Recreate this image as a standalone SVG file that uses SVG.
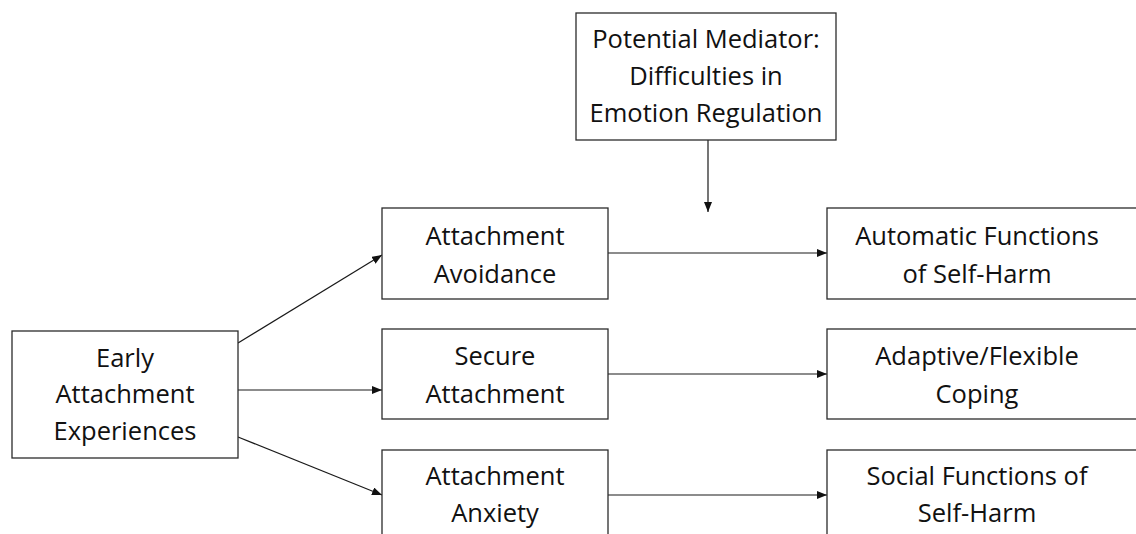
<svg xmlns="http://www.w3.org/2000/svg" width="1136" height="534" viewBox="0 0 1136 534">
<style>
.box{fill:#fff;stroke:#2b2b2b;stroke-width:1.3}
.t{font-family:"Open Sans","Liberation Sans",sans-serif;font-size:25.5px;fill:#111;text-anchor:middle}
.c{stroke:#1a1a1a;stroke-width:1.2;fill:none;marker-end:url(#ah)}
</style>
<defs>
<marker id="ah" viewBox="0 0 10 8" refX="10" refY="4" markerWidth="10" markerHeight="8" markerUnits="userSpaceOnUse" orient="auto">
<path d="M0,0 L10,4 L0,8 Z" fill="#111"/>
</marker>
</defs>
<rect width="1136" height="534" fill="#fff"/>
<g id="connectors">
<line class="c" x1="708" y1="140" x2="708" y2="212"/>
<line class="c" x1="238" y1="343" x2="382" y2="255"/>
<line class="c" x1="238" y1="390" x2="382" y2="390"/>
<line class="c" x1="238" y1="437" x2="382" y2="495"/>
<line class="c" x1="608" y1="253" x2="827" y2="253"/>
<line class="c" x1="608" y1="374" x2="827" y2="374"/>
<line class="c" x1="608" y1="495" x2="827" y2="495"/>
</g>
<g id="mediator">
<rect class="box" x="576" y="13" width="260" height="127"/>
<text class="t" x="706" y="48">Potential Mediator:</text>
<text class="t" x="706" y="85">Difficulties in</text>
<text class="t" x="706" y="122">Emotion Regulation</text>
</g>
<g id="early">
<rect class="box" x="12" y="331" width="226" height="127"/>
<text class="t" x="125" y="367">Early</text>
<text class="t" x="125" y="403">Attachment</text>
<text class="t" x="125" y="440">Experiences</text>
</g>
<g id="avoidance">
<rect class="box" x="382" y="208" width="226" height="91"/>
<text class="t" x="495" y="245">Attachment</text>
<text class="t" x="495" y="283">Avoidance</text>
</g>
<g id="secure">
<rect class="box" x="382" y="329" width="226" height="90"/>
<text class="t" x="495" y="365">Secure</text>
<text class="t" x="495" y="403">Attachment</text>
</g>
<g id="anxiety">
<rect class="box" x="382" y="450" width="226" height="100"/>
<text class="t" x="495" y="485">Attachment</text>
<text class="t" x="495" y="522">Anxiety</text>
</g>
<g id="automatic">
<rect class="box" x="827" y="208" width="320" height="91"/>
<text class="t" x="977" y="245">Automatic Functions</text>
<text class="t" x="977" y="283">of Self-Harm</text>
</g>
<g id="adaptive">
<rect class="box" x="827" y="329" width="320" height="90"/>
<text class="t" x="977" y="365">Adaptive/Flexible</text>
<text class="t" x="977" y="403">Coping</text>
</g>
<g id="social">
<rect class="box" x="827" y="450" width="320" height="100"/>
<text class="t" x="977" y="485">Social Functions of</text>
<text class="t" x="977" y="522">Self-Harm</text>
</g>
</svg>
